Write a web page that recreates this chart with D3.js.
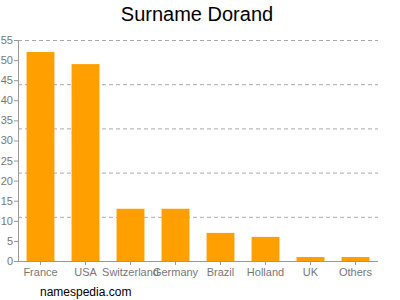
<!DOCTYPE html>
<html>
<head>
<meta charset="utf-8">
<script src="https://cdn.jsdelivr.net/npm/d3@7"></script>
<style>
  body { margin: 0; background: #fff; }
  text { font-family: "Liberation Sans", Arial, sans-serif; }
</style>
</head>
<body>
<div id="chart"></div>
<script>
// Chart data
const countries = ["France", "USA", "Switzerland", "Germany", "Brazil", "Holland", "UK", "Others"];
const counts = [52, 49, 13, 13, 7, 6, 1, 1];
const yTicks = [0, 5, 10, 15, 20, 25, 30, 35, 40, 45, 50, 55];
const gridValues = [11, 22, 33, 44, 55];

const margin = { top: 40, right: 22, bottom: 39, left: 18 },
    width  = 400 - margin.left - margin.right,
    height = 300 - margin.top - margin.bottom;

const svg = d3.select("#chart")
    .append("svg")
    .attr("width", 400)
    .attr("height", 300);

const g = svg.append("g")
    .attr("transform", `translate(${margin.left}, ${margin.top})`);

const x = d3.scaleBand()
    .domain(countries)
    .range([0, width])
    .paddingInner(0.38)
    .paddingOuter(0.19);

const y = d3.scaleLinear()
    .domain([0, 55])
    .range([height, 0]);

// Dashed grid lines
g.selectAll(".grid")
    .data(gridValues)
    .enter()
    .append("line")
    .attr("x1", 0)
    .attr("x2", width)
    .attr("y1", d => y(d) + 0.5)
    .attr("y2", d => y(d) + 0.5)
    .attr("stroke", "#aaa")
    .attr("stroke-dasharray", "4,3");

// Bars
g.selectAll(".bar")
    .data(countries)
    .enter()
    .append("rect")
    .attr("x", d => x(d))
    .attr("y", (d, i) => y(counts[i]))
    .attr("width", x.bandwidth())
    .attr("height", (d, i) => height - y(counts[i]))
    .attr("fill", "#ffa000");

// Y axis
const yAxis = g.append("g")
    .call(d3.axisLeft(y).tickValues(yTicks).tickSize(4).tickPadding(1));
yAxis.select(".domain").attr("stroke", "#999").attr("d", `M0.5,0V${height}`);
yAxis.selectAll(".tick line").attr("stroke", "#999");
yAxis.selectAll("text")
    .attr("fill", "#777")
    .style("font-size", "11px");

// X axis
const xAxis = g.append("g")
    .attr("transform", `translate(0, ${height})`)
    .call(d3.axisBottom(x).tickSize(4).tickPadding(3));
xAxis.select(".domain").attr("stroke", "#999").attr("d", `M0,0.5H${width}`);
xAxis.selectAll(".tick line").attr("stroke", "#999");
xAxis.selectAll("text")
    .attr("fill", "#777")
    .style("font-size", "11px");

// Title
svg.append("text")
    .attr("x", 197)
    .attr("y", 21)
    .attr("text-anchor", "middle")
    .style("font-size", "20px")
    .attr("fill", "#000")
    .text("Surname Dorand");

// Footer
svg.append("text")
    .attr("x", 40)
    .attr("y", 296)
    .style("font-size", "12px")
    .attr("fill", "#000")
    .text("namespedia.com");
</script>
</body>
</html>
